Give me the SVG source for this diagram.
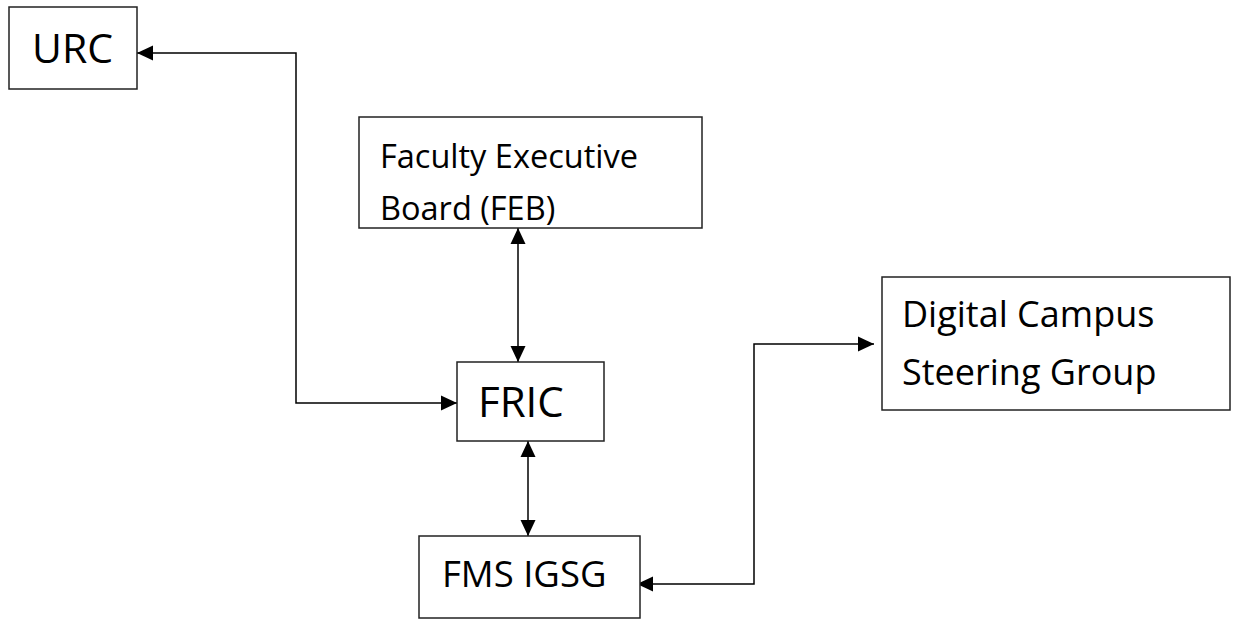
<svg xmlns="http://www.w3.org/2000/svg" width="1237" height="619" viewBox="0 0 1237 619">
<style>
.box{fill:#fff;stroke:#222;stroke-width:1.5}
.t{font-family:"Open Sans","Liberation Sans",sans-serif;fill:#000}
.c{fill:none;stroke:#000;stroke-width:1.5}
</style>
<defs>
<marker id="ah" markerUnits="userSpaceOnUse" markerWidth="18" markerHeight="18" viewBox="0 0 18 18" refX="16" refY="9" orient="auto-start-reverse">
<path d="M0,1.5 L16,9 L0,16.5 Z" fill="#000"/>
</marker>
</defs>
<rect width="1237" height="619" fill="#fff"/>
<g id="connectors">
<polyline class="c" points="137,53 296,53 296,403 457,403" marker-start="url(#ah)" marker-end="url(#ah)"/>
<line class="c" x1="518" y1="228" x2="518" y2="362" marker-start="url(#ah)" marker-end="url(#ah)"/>
<line class="c" x1="528" y1="441" x2="528" y2="536" marker-start="url(#ah)" marker-end="url(#ah)"/>
<polyline class="c" points="637,584 754,584 754,344 874,344" marker-start="url(#ah)" marker-end="url(#ah)"/>
</g>
<g id="urc">
<rect class="box" x="9" y="7" width="128" height="82"/>
<text class="t" x="32" y="63" font-size="41">URC</text>
</g>
<g id="feb">
<rect class="box" x="359" y="117" width="343" height="111"/>
<text class="t" x="380" y="168" font-size="32.5">Faculty Executive</text>
<text class="t" x="380" y="220" font-size="32.5">Board (FEB)</text>
</g>
<g id="fric">
<rect class="box" x="457" y="362" width="147" height="79"/>
<text class="t" x="478" y="417" font-size="42">FRIC</text>
</g>
<g id="fms">
<rect class="box" x="419" y="536" width="221" height="82"/>
<text class="t" x="442" y="587" font-size="36.5">FMS IGSG</text>
</g>
<g id="dcsg">
<rect class="box" x="882" y="277" width="348" height="133"/>
<text class="t" x="902" y="327" font-size="36">Digital Campus</text>
<text class="t" x="902" y="385" font-size="36">Steering Group</text>
</g>
</svg>
